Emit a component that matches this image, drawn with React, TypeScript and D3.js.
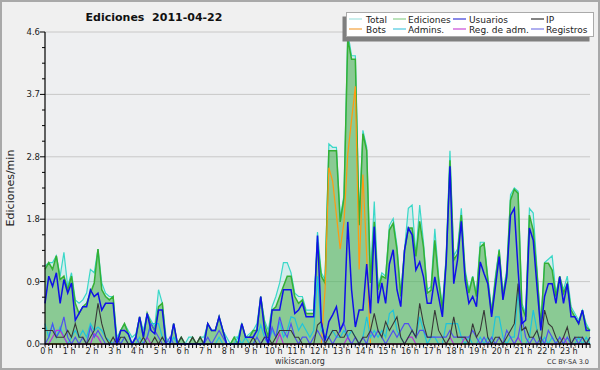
import React from "react";
import * as d3 from "d3";

// 10-minute buckets, index 0..144 (00:00 .. 24:00)
const HOUR_LABELS = ["0 h","1 h","2 h","3 h","4 h","5 h","6 h","7 h","8 h","9 h","10 h","11 h","12 h","13 h","14 h","15 h","16 h","17 h","18 h","19 h","20 h","21 h","22 h","23 h"];
const Y_TICK_VALUES = [0, 0.92, 1.84, 2.76, 3.68, 4.6];
const Y_TICK_LABELS = ["0.0", "0.9", "1.8", "2.8", "3.7", "4.6"];

const total = [
  1.15, 1.2, 1.2, 1.3, 1.0, 1.35, 0.85, 1.05, 0.65, 0.6,
  0.65, 0.75, 1.1, 1.05, 1.4, 0.9, 0.75, 0.7, 0.7, 0.1,
  0.2, 0.3, 0.2, 0.1, 0.15, 0.4, 0.2, 0.45, 0.35, 0.25,
  0.8, 0.6, 0.1, 0, 0.3, 0, 0.1, 0, 0.1, 0.1,
  0, 0.1, 0.1, 0.3, 0.2, 0.2, 0.4, 0.2, 0.1, 0,
  0.1, 0.1, 0.3, 0.1, 0.15, 0.2, 0.3, 0.7, 0.35, 0.2,
  0.55, 0.7, 0.9, 1.2, 1.2, 1.05, 0.75, 0.7, 0.7, 0.5,
  0.5, 0.5, 1.65, 1.05, 0.95, 2.95, 2.9, 2.9, 1.85, 2.2,
  4.6, 4.25, 4.25, 1.8, 3.15, 2.9, 1.0, 2.1, 0.85, 1.05,
  1.0, 1.75, 1.85, 1.45, 0.75, 1.4, 2.0, 2.05, 1.3, 2.05,
  1.5, 0.8, 0.85, 1.7, 1.0, 0.55, 1.3, 2.85, 1.3, 1.4,
  2.0, 1.1, 0.8, 1.0, 0.75, 1.5, 1.5, 1.0, 0.5, 1.0,
  1.4, 0.75, 1.1, 2.2, 2.3, 2.25, 0.6, 0.45, 2.0, 1.93,
  1.1, 0.3, 1.2, 1.25, 1.3, 0.75, 1.0, 0.8, 1.0, 0.55,
  0.45, 0.35, 0.5, 0.3, 0.2,
];

const ediciones = [
  1.1, 1.2, 1.1, 1.3, 0.95, 1.0, 0.8, 1.0, 0.6, 0.45,
  0.55, 0.6, 0.75, 0.9, 1.4, 0.8, 0.7, 0.65, 0.7, 0,
  0.2, 0.3, 0.15, 0, 0.1, 0.4, 0.1, 0.45, 0.3, 0.2,
  0.55, 0.6, 0, 0, 0.3, 0, 0.1, 0, 0, 0.1,
  0, 0.1, 0, 0.3, 0.2, 0.2, 0.4, 0.2, 0, 0,
  0.1, 0, 0.3, 0.1, 0.1, 0.2, 0.2, 0.7, 0.3, 0.1,
  0.5, 0.55, 0.7, 0.85, 1.0, 1.0, 0.7, 0.6, 0.65, 0.45,
  0.45, 0.45, 1.5, 1.0, 0.9, 2.85, 2.85, 2.85, 1.8, 2.15,
  4.5, 4.2, 4.2, 1.75, 3.1, 2.85, 0.9, 1.8, 0.8, 1.0,
  0.97, 1.68, 1.78, 1.39, 0.7, 1.38, 1.71, 1.71, 1.29, 1.81,
  1.43, 0.75, 0.79, 1.53, 0.94, 0.5, 1.24, 2.71, 1.24, 1.33,
  1.9, 1.04, 0.75, 0.99, 0.7, 1.43, 1.48, 0.94, 0.45, 0.94,
  1.38, 0.7, 1.04, 2.12, 2.28, 2.22, 0.55, 0.4, 1.9, 1.68,
  1.04, 0.25, 1.19, 1.19, 1.09, 0.7, 1.0, 0.75, 0.89, 0.5,
  0.4, 0.3, 0.5, 0.25, 0.2,
];

const usuarios = [
  0.6, 1.0, 0.85, 1.05, 0.6, 0.95, 0.75, 0.9, 0.35, 0.45,
  0.55, 0.55, 0.8, 0.7, 0.75, 0.5, 0.6, 0.6, 0.6, 0,
  0.2, 0.2, 0.15, 0, 0.1, 0.4, 0.1, 0.45, 0.2, 0.15,
  0.5, 0.5, 0, 0, 0.3, 0, 0, 0, 0, 0,
  0, 0, 0, 0.3, 0.2, 0.2, 0.4, 0.2, 0, 0,
  0, 0, 0.3, 0.1, 0.1, 0.1, 0.2, 0.7, 0.2, 0,
  0.5, 0.5, 0.5, 0.8, 0.8, 0.8, 0.45, 0.5, 0.6, 0.4,
  0.4, 0.4, 1.6, 0.33, 0.05, 0.33, 0.43, 0.55, 0.2, 0.33,
  1.8, 0.8, 0.25, 0.5, 0.5, 1.18, 0.45, 1.73, 0.6, 0.9,
  0.6, 1.18, 1.39, 0.8, 0.55, 1.38, 1.71, 1.61, 1.09, 1.21,
  0.99, 0.6, 0.6, 0.99, 0.7, 0.4, 1.2, 2.62, 0.89, 1.24,
  1.81, 0.94, 0.6, 0.7, 0.55, 1.21, 1.04, 0.89, 0.4, 0.84,
  1.29, 0.65, 0.99, 1.9, 2.0, 1.09, 0.3, 0.35, 1.71, 1.53,
  0.84, 0.2, 0.7, 0.89, 0.89, 0.6, 0.99, 0.6, 0.89, 0.4,
  0.4, 0.3, 0.5, 0.2, 0.2,
];

const ip = [
  0.2, 0.2, 0.2, 0.1, 0.1, 0.1, 0.2, 0.1, 0.3, 0.1,
  0.1, 0, 0.1, 0.2, 0.6, 0.3, 0.1, 0, 0.1, 0,
  0.1, 0.1, 0, 0, 0, 0, 0.1, 0, 0, 0.1,
  0, 0.1, 0, 0, 0, 0, 0.1, 0, 0, 0.1,
  0, 0.1, 0, 0, 0, 0, 0, 0, 0, 0,
  0, 0, 0, 0, 0, 0.1, 0, 0, 0.1, 0.1,
  0, 0.1, 0.2, 0.2, 0.2, 0.2, 0.1, 0.1, 0, 0,
  0, 0, 0.28, 0.33, 0, 0.1, 0.2, 0.2, 0.1, 0.1,
  0.2, 0.2, 0.1, 0, 0.1, 0.1, 0.2, 0.45, 0.2, 0.1,
  0.33, 0.2, 0.3, 0.4, 0.1, 0, 0.1, 0.2, 0.1, 0.6,
  0.3, 0.1, 0.1, 0.5, 0.2, 0.1, 0, 0.1, 0.4, 0.1,
  0.1, 0.1, 0, 0.3, 0.1, 0.2, 0.5, 0.1, 0, 0.1,
  0.1, 0, 0.1, 0.2, 0.3, 0.89, 0.2, 0.25, 0.1, 0.1,
  0.2, 0, 0.5, 0.3, 0.25, 0.1, 0, 0.1, 0.25, 0,
  0.1, 0.1, 0.1, 0, 0.1,
];

const bots = [
  0, 0, 0, 0, 0, 0, 0, 0, 0, 0,
  0, 0, 0, 0, 0, 0, 0, 0, 0, 0,
  0, 0, 0, 0, 0, 0, 0, 0, 0, 0,
  0, 0, 0, 0, 0, 0, 0, 0, 0, 0,
  0, 0, 0, 0, 0, 0, 0, 0, 0, 0,
  0, 0, 0, 0, 0, 0, 0, 0, 0, 0,
  0, 0, 0, 0, 0, 0, 0, 0, 0, 0,
  0, 0, 0, 0, 0.8, 2.6, 2.4, 1.9, 1.4, 1.8,
  2.8, 3.3, 3.8, 1.1, 2.5, 1.3, 0, 0, 0, 0,
  0, 0, 0, 0, 0, 0, 0, 0, 0, 0,
  0, 0, 0, 0, 0, 0, 0, 0, 0, 0,
  0, 0, 0, 0, 0, 0, 0, 0, 0, 0,
  0, 0, 0, 0, 0, 0, 0, 0, 0, 0,
  0, 0, 0, 0, 0, 0, 0, 0, 0, 0,
  0, 0, 0, 0, 0,
];

const admins = [
  0.3, 0.1, 0.3, 0.1, 0.25, 0.1, 0, 0.1, 0.2, 0.1,
  0.2, 0.1, 0.3, 0.2, 0.25, 0.2, 0.1, 0.05, 0, 0,
  0, 0.1, 0, 0, 0, 0.1, 0, 0.1, 0.3, 0.3,
  0.3, 0.1, 0, 0, 0.1, 0, 0, 0, 0, 0,
  0, 0, 0, 0, 0, 0, 0.1, 0, 0, 0,
  0, 0.1, 0, 0.1, 0, 0, 0.1, 0.28, 0.1, 0,
  0.2, 0.1, 0.33, 0.1, 0.2, 0.4, 0.38, 0.2, 0.3, 0.2,
  0.1, 0.2, 1.0, 0.2, 0.1, 0.1, 0.2, 0.1, 0.1, 0.2,
  0.1, 0.2, 0.1, 0, 0.1, 0.4, 0.1, 0.2, 0.1, 0.2,
  0.1, 0.45, 0.5, 0.2, 0.1, 0, 0.1, 0.2, 0.1, 0.4,
  0.2, 0, 0.1, 0.1, 0, 0, 0.3, 0.3, 0.3, 0.3,
  0.1, 0, 0.1, 0, 0, 0.1, 0, 0.1, 0, 0.4,
  0.4, 0.1, 0, 0.1, 0.1, 0.79, 0, 0, 0.1, 0.5,
  0.2, 0, 0.1, 0, 0.1, 0, 0.1, 0, 0.1, 0,
  0, 0.1, 0, 0.1, 0,
];

const regAdm = [
  0, 0, 0.1, 0.2, 0.2, 0.1, 0, 0, 0, 0,
  0, 0, 0, 0.15, 0.1, 0, 0, 0, 0, 0,
  0, 0, 0, 0, 0, 0, 0, 0.1, 0, 0,
  0, 0, 0, 0, 0, 0, 0, 0, 0, 0,
  0, 0, 0, 0, 0, 0, 0, 0, 0, 0,
  0, 0, 0, 0, 0, 0, 0, 0, 0, 0,
  0, 0, 0.15, 0, 0, 0, 0, 0, 0, 0,
  0, 0, 0, 0, 0, 0, 0, 0, 0, 0,
  0.1, 0, 0, 0, 0, 0, 0, 0, 0, 0,
  0, 0, 0, 0, 0, 0, 0.1, 0.1, 0, 0,
  0, 0, 0, 0, 0, 0, 0, 0.1, 0, 0,
  0, 0.1, 0, 0, 0, 0, 0, 0, 0, 0,
  0, 0, 0, 0, 0, 0.1, 0, 0, 0, 0,
  0, 0, 0, 0, 0, 0, 0, 0.1, 0, 0,
  0, 0, 0, 0, 0,
];

const registros = [
  0, 0.1, 0.3, 0.1, 0.2, 0.4, 0.1, 0, 0.1, 0,
  0.1, 0, 0.25, 0.1, 0.2, 0.1, 0, 0, 0, 0.1,
  0, 0.1, 0, 0, 0.1, 0, 0, 0.1, 0.3, 0.2,
  0.1, 0, 0, 0.1, 0, 0, 0, 0, 0, 0,
  0, 0, 0, 0.1, 0, 0.1, 0.2, 0.1, 0, 0,
  0, 0, 0, 0, 0, 0, 0.1, 0, 0.1, 0,
  0.25, 0.1, 0.4, 0.2, 0.1, 0.3, 0.1, 0, 0.1, 0.1,
  0, 0.1, 0.2, 0.1, 0, 0.1, 0, 0.1, 0.2, 0.3,
  0.1, 0, 0.1, 0, 0.1, 0, 0.2, 0.1, 0.2, 0.1,
  0, 0.1, 0.2, 0.1, 0.2, 0.3, 0.3, 0.2, 0.1, 0.2,
  0.2, 0.1, 0.1, 0.1, 0.1, 0.1, 0.1, 0.2, 0.1, 0.1,
  0.1, 0.1, 0.1, 0.2, 0.1, 0, 0.1, 0, 0.1, 0,
  0.1, 0, 0.2, 0.1, 0, 0.1, 0.4, 0.1, 0, 0.1,
  0, 0.1, 0, 0.2, 0.1, 0, 0.1, 0, 0.1, 0,
  0.1, 0, 0.1, 0, 0.1,
];

const LEGEND = [
  { name: "Total", color: "#a6e3df", col: 0, row: 0 },
  { name: "Ediciones", color: "#8ed08e", col: 1, row: 0 },
  { name: "Usuarios", color: "#3a3ad8", col: 2, row: 0 },
  { name: "IP", color: "#333333", col: 3, row: 0 },
  { name: "Bots", color: "#f4a23c", col: 0, row: 1 },
  { name: "Admins.", color: "#4cc8e0", col: 1, row: 1 },
  { name: "Reg. de adm.", color: "#c94ad8", col: 2, row: 1 },
  { name: "Registros", color: "#7a7ae6", col: 3, row: 1 },
];

const FONT = "'DejaVu Sans', Verdana, sans-serif";

export default function App() {
  const W = 600, H = 370;
  const left = 45, right = 590, top = 32, bottom = 344;
  const x = d3.scaleLinear().domain([0, 144]).range([left, right]);
  const y = d3.scaleLinear().domain([0, 4.6]).range([bottom, top]);

  const lineGen = d3.line<number>().x((_, i) => x(i)).y((d) => y(d));
  const areaGen = d3.area<number>().x((_, i) => x(i)).y0(y(0)).y1((d) => y(d));

  const minorY: number[] = [];
  for (let k = 0; k < Y_TICK_VALUES.length - 1; k++) {
    const a = Y_TICK_VALUES[k], b = Y_TICK_VALUES[k + 1];
    for (let j = 1; j < 4; j++) minorY.push(a + ((b - a) * j) / 4);
  }
  const xTicks = d3.range(0, 145);

  const colX = [349, 393, 453, 531];
  const textX = [366, 408, 469, 546];
  const rowY = [22.5, 32.5];

  return (
    <svg width={W} height={H} style={{ position: "absolute", left: 0, top: 0 }} fontFamily={FONT}>
      <rect x={0} y={0} width={W} height={H} fill="#f0f0f0" />
      <rect x={1} y={1} width={W - 2} height={H - 2} fill="none" stroke="#a9a9a9" strokeWidth={2} />
      <rect x={left} y={top} width={right - left} height={bottom - top} fill="#eeeff1" />

      {/* gridlines */}
      {Y_TICK_VALUES.slice(1).map((v, i) => (
        <line key={"g" + i} x1={left} x2={right} y1={y(v)} y2={y(v)} stroke="#c8c8c8" strokeWidth={1} />
      ))}

      {/* areas */}
      <path d={areaGen(total) || ""} fill="#40e0d0" fillOpacity={0.15} />
      <path d={areaGen(ediciones) || ""} fill="#4caf4c" fillOpacity={0.55} />

      {/* lines */}
      <path d={lineGen(total) || ""} fill="none" stroke="#3ad8c8" strokeWidth={1.2} />
      <path d={lineGen(ediciones) || ""} fill="none" stroke="#34b034" strokeWidth={1.5} />
      <path d={lineGen(bots) || ""} fill="none" stroke="#ff9a10" strokeWidth={1.2} />
      <path d={lineGen(admins) || ""} fill="none" stroke="#1ec4dc" strokeWidth={1.2} />
      <path d={lineGen(regAdm) || ""} fill="none" stroke="#b830d8" strokeWidth={1.2} />
      <path d={lineGen(registros) || ""} fill="none" stroke="#5050f0" strokeWidth={1.2} />
      <path d={lineGen(ip) || ""} fill="none" stroke="#383838" strokeWidth={1.1} />
      <path d={lineGen(usuarios) || ""} fill="none" stroke="#1010e8" strokeWidth={1.5} />

      {/* y axis */}
      <line x1={left} x2={left} y1={top} y2={bottom} stroke="#000" strokeWidth={1.2} />
      {Y_TICK_VALUES.map((v, i) => (
        <g key={"yt" + i}>
          <line x1={left - 5} x2={left} y1={y(v)} y2={y(v)} stroke="#000" />
          <text x={left - 5} y={y(v) + 3} fontSize={8.5} textAnchor="end" fill="#222">{Y_TICK_LABELS[i]}</text>
        </g>
      ))}
      {minorY.map((v, i) => (
        <line key={"ym" + i} x1={left - 3} x2={left} y1={y(v)} y2={y(v)} stroke="#000" />
      ))}

      {/* x axis */}
      <line x1={left} x2={right} y1={bottom} y2={bottom} stroke="#000" strokeWidth={1.5} />
      {xTicks.map((t) => (
        <line key={"xt" + t} x1={x(t)} x2={x(t)} y1={bottom} y2={bottom + 4} stroke="#000" />
      ))}
      {HOUR_LABELS.map((lab, i) => (
        <text key={"xl" + i} x={x(i * 6) + 1.5} y={354} fontSize={8} textAnchor="middle" fill="#222" style={{ paintOrder: "stroke" }} stroke="#f0f0f0" strokeWidth={2}>{lab}</text>
      ))}

      {/* titles */}
      <text x={154} y={21} fontSize={11} fontWeight="bold" textAnchor="middle" fill="#111" xmlSpace="preserve">Ediciones  2011-04-22</text>
      <text transform="translate(14,188) rotate(-90)" fontSize={11} textAnchor="middle" fill="#222">Ediciones/min</text>
      <text x={300} y={364} fontSize={8} textAnchor="middle" fill="#333">wikiscan.org</text>
      <text x={589} y={364} fontSize={6.5} textAnchor="end" fill="#333">CC BY-SA 3.0</text>

      {/* legend */}
      <rect x={342.5} y={16.5} width={247} height={25} fill="#7f7f7f" />
      <rect x={346.5} y={12.5} width={247} height={24} fill="#ffffff" stroke="#aaaaaa" />
      {LEGEND.map((l) => (
        <g key={l.name}>
          <line x1={colX[l.col]} x2={colX[l.col] + 13} y1={rowY[l.row] - 3.5} y2={rowY[l.row] - 3.5} stroke={l.color} strokeWidth={1.2} />
          <text x={textX[l.col]} y={rowY[l.row]} fontSize={9} fill="#222">{l.name}</text>
        </g>
      ))}
    </svg>
  );
}
